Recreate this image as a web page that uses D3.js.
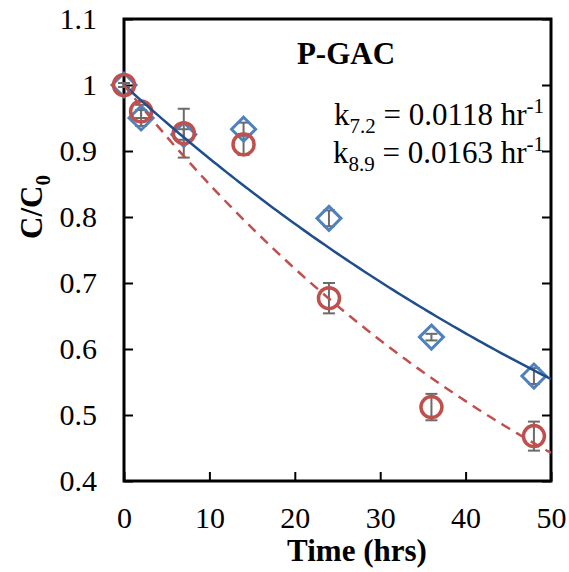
<!DOCTYPE html>
<html>
<head>
<meta charset="utf-8">
<script src="https://cdn.jsdelivr.net/npm/d3@7"></script>
<style>
  body { margin: 0; background: white; }
  text { font-family: "Liberation Serif", "Times New Roman", serif; }
</style>
</head>
<body>
<svg id="chart" width="569" height="572"></svg>
<script>
// data
var times = [0, 2, 7, 14, 24, 36, 48];
var ph72 = [1.0, 0.950, 0.925, 0.933, 0.798, 0.618, 0.559];
var ph72Err = [0.003, 0.012, 0.008, 0.010, 0.012, 0.005, 0.012];
var ph89 = [1.0, 0.960, 0.927, 0.910, 0.677, 0.512, 0.468];
var ph89Err = [0.003, 0.010, 0.037, 0.016, 0.023, 0.020, 0.022];
var k72 = 0.0118;
var k89 = 0.0163;
var xTicks = [0, 10, 20, 30, 40, 50];
var yTicks = [0.4, 0.5, 0.6, 0.7, 0.8, 0.9, 1, 1.1];

var svg = d3.select('svg#chart');

var mLeft = 124, mRight = 551, mTop = 19, mBottom = 481;

var x = d3.scaleLinear().domain([0, 50]).range([mLeft, mRight]);
var y = d3.scaleLinear().domain([0.4, 1.1]).range([mBottom, mTop]);

// axes, ticks inside
var xAxis = svg.append('g')
  .attr('transform', 'translate(0,' + mBottom + ')')
  .call(d3.axisBottom(x).tickValues(xTicks).tickSizeInner(-9).tickSizeOuter(0).tickPadding(26));
var yAxis = svg.append('g')
  .attr('transform', 'translate(' + mLeft + ',0)')
  .call(d3.axisLeft(y).tickValues(yTicks).tickSizeInner(-9).tickSizeOuter(0).tickPadding(27)
    .tickFormat(function (d) { return d === 1 ? '1' : d3.format('.1f')(d); }));
var yRight = svg.append('g')
  .attr('transform', 'translate(' + mRight + ',0)')
  .call(d3.axisRight(y).tickValues(yTicks).tickSizeInner(-9).tickSizeOuter(0).tickFormat(''));

[xAxis, yAxis, yRight].forEach(function (g) {
  g.attr('font-size', null);
  g.select('.domain').remove();
  g.selectAll('.tick line').attr('stroke', 'black').attr('stroke-width', 2);
  g.selectAll('.tick text')
    .attr('fill', 'black')
    .style('font-size', '30px')
    .style('font-family', '"Liberation Serif", serif');
});

svg.append('rect')
  .attr('x', mLeft)
  .attr('y', mTop)
  .attr('width', mRight - mLeft)
  .attr('height', mBottom - mTop)
  .style('fill', 'none')
  .style('stroke', 'black')
  .style('stroke-width', 3);

// fitted first-order curves
var tFine = d3.range(0, 50.01, 0.5);
var line = d3.line()
  .x(function (d) { return x(d[0]); })
  .y(function (d) { return y(d[1]); });

var plot = svg.append('g');

// error bars
function errorBars(vals, errs) {
  var g = plot.append('g')
    .attr('stroke', '#6b6b6b')
    .attr('stroke-width', 2);
  times.forEach(function (t, i) {
    var cx = x(t);
    var y0 = y(vals[i] - errs[i]);
    var y1 = y(vals[i] + errs[i]);
    g.append('line').attr('x1', cx).attr('x2', cx).attr('y1', y0).attr('y2', y1);
    g.append('line').attr('x1', cx - 6).attr('x2', cx + 6).attr('y1', y0).attr('y2', y0);
    g.append('line').attr('x1', cx - 6).attr('x2', cx + 6).attr('y1', y1).attr('y2', y1);
  });
}
errorBars(ph72, ph72Err);
errorBars(ph89, ph89Err);

// pH 7.2 diamonds
plot.append('g').selectAll('path')
  .data(times)
  .enter()
  .append('path')
    .attr('d', 'M0,-12L12,0L0,12L-12,0Z')
    .attr('transform', function (d, i) {
      return 'translate(' + x(d) + ',' + y(ph72[i]) + ')';
    })
    .style('fill', 'none')
    .style('stroke', '#4f81bd')
    .style('stroke-width', 3);

// pH 8.9 circles
plot.append('g').selectAll('circle')
  .data(times)
  .enter()
  .append('circle')
    .attr('cx', function (d) { return x(d); })
    .attr('cy', function (d, i) { return y(ph89[i]); })
    .attr('r', 10.5)
    .style('fill', 'none')
    .style('stroke', '#c0504d')
    .style('stroke-width', 3.5);

plot.append('path')
  .datum(tFine.map(function (t) { return [t, Math.exp(-k72 * t)]; }))
  .attr('d', line)
  .style('fill', 'none')
  .style('stroke', '#1f4e8c')
  .style('stroke-width', 2.5);

plot.append('path')
  .datum(tFine.map(function (t) { return [t, Math.exp(-k89 * t)]; }))
  .attr('d', line)
  .style('fill', 'none')
  .style('stroke', '#c0504d')
  .style('stroke-width', 2.5)
  .style('stroke-dasharray', '10,7');

// labels
svg.append('text')
  .attr('x', 346)
  .attr('y', 64)
  .attr('text-anchor', 'middle')
  .style('font-size', '31px')
  .style('font-weight', 'bold')
  .text('P-GAC');

var annot = [
  { sub: '7.2', val: ' = 0.0118 hr', y: 125 },
  { sub: '8.9', val: ' = 0.0163 hr', y: 163 }
];
annot.forEach(function (a) {
  var t = svg.append('text')
    .attr('x', 544)
    .attr('y', a.y)
    .attr('text-anchor', 'end')
    .style('font-size', '31px');
  t.append('tspan').text('k');
  t.append('tspan').attr('dy', 8).style('font-size', '21px').text(a.sub);
  t.append('tspan').attr('dy', -8).text(a.val);
  t.append('tspan').attr('dy', -12).style('font-size', '21px').text('-1');
});

svg.append('text')
  .attr('x', 357)
  .attr('y', 561)
  .attr('text-anchor', 'middle')
  .style('font-size', '31px')
  .style('font-weight', 'bold')
  .text('Time (hrs)');

var yl = svg.append('text')
  .attr('transform', 'translate(42,207) rotate(-90)')
  .attr('text-anchor', 'middle')
  .style('font-size', '31px')
  .style('font-weight', 'bold');
yl.append('tspan').text('C/C');
yl.append('tspan').attr('dy', 8).style('font-size', '21px').text('0');
</script>
</body>
</html>
